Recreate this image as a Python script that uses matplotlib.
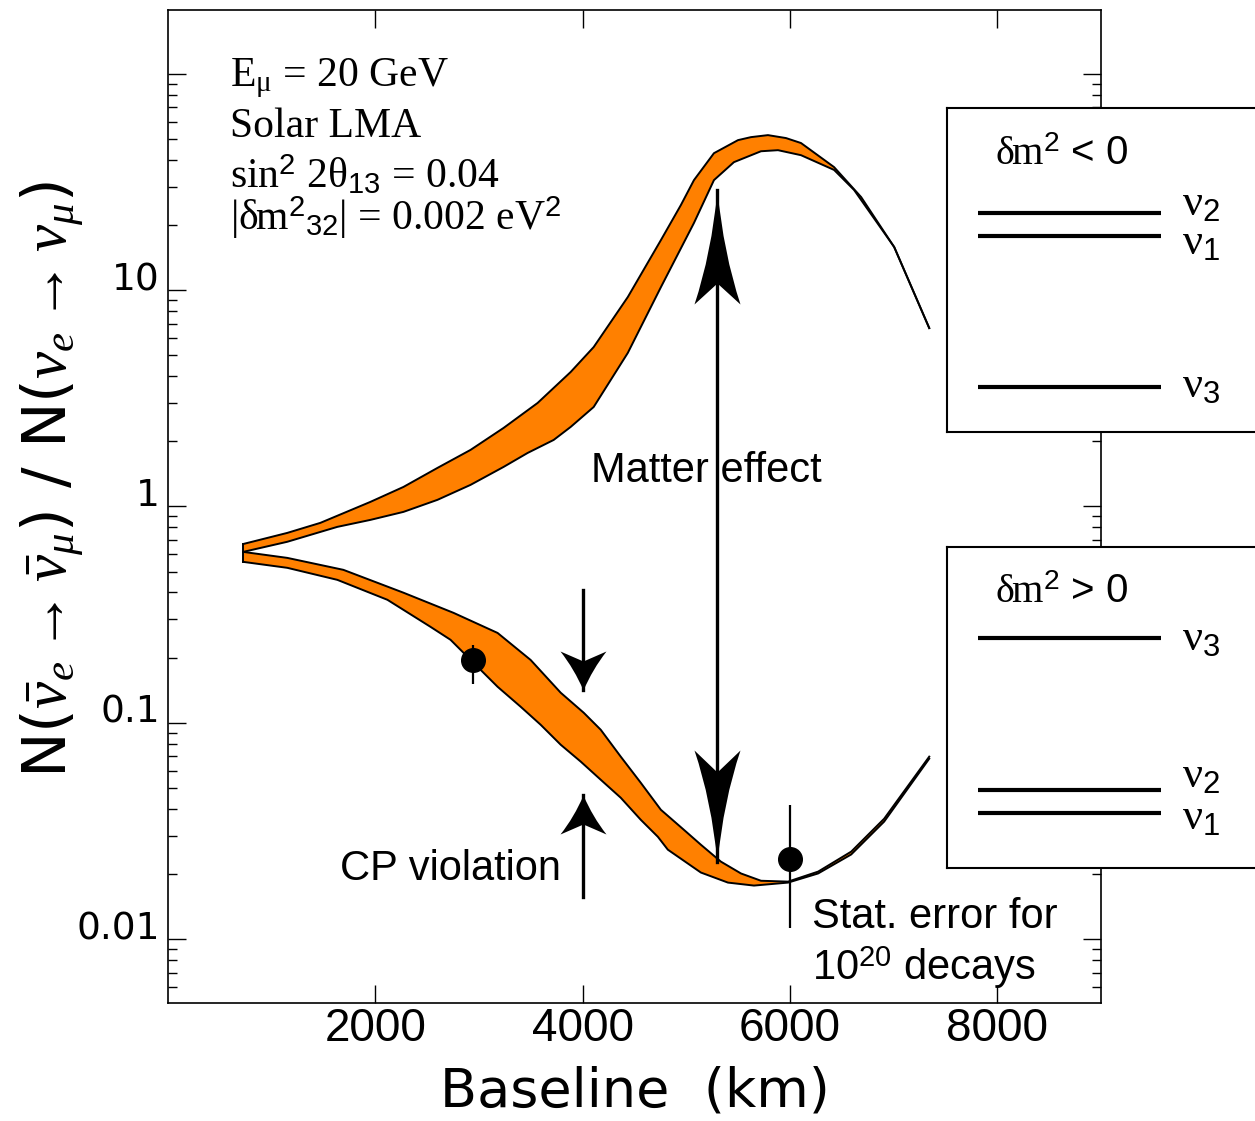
import numpy as np
import matplotlib
matplotlib.use('Agg')
import matplotlib.pyplot as plt
from matplotlib.path import Path
from matplotlib.ticker import FixedLocator, FixedFormatter, LogLocator, NullFormatter

plt.rcParams['mathtext.fontset'] = 'custom'
plt.rcParams['mathtext.rm'] = 'Liberation Serif'
plt.rcParams['mathtext.it'] = 'Liberation Serif:italic'
plt.rcParams['mathtext.bf'] = 'Liberation Serif:bold'
plt.rcParams['mathtext.sf'] = 'Liberation Sans'

# upper band (delta m^2 < 0)
up_hi_x = [725, 1150, 1469, 1952, 2271, 2599, 2918, 3237, 3565, 3884, 4106,
           4435, 4754, 4947, 5073, 5266, 5498, 5623, 5787, 5961, 6106, 6425, 6686, 7005, 7343]
up_hi_y = [0.67, 0.754, 0.839, 1.049, 1.23, 1.506, 1.824, 2.305, 3.006, 4.18, 5.45,
           9.28, 17.0, 24.7, 32.2, 42.9, 49.3, 50.9, 52.0, 50.4, 47.8, 37.0, 26.9, 15.8, 6.67]
up_lo_x = [725, 1150, 1633, 1952, 2271, 2599, 2918, 3237, 3469, 3720, 3884, 4106,
           4435, 4754, 5073, 5266, 5459, 5720, 5884, 6106, 6425, 6618, 7005, 7343]
up_lo_y = [0.616, 0.686, 0.804, 0.866, 0.943, 1.072, 1.257, 1.522, 1.766, 2.028, 2.329, 2.88,
           5.12, 10.3, 20.4, 32.2, 39.0, 43.8, 44.3, 42.0, 35.9, 29.0, 15.8, 6.67]

# lower band (delta m^2 > 0)
lo_hi_x = [725, 1150, 1691, 2271, 2754, 3179, 3498, 3788, 4010, 4174, 4367, 4560,
           4754, 4976, 5140, 5333, 5527, 5720, 5981, 6271, 6590, 6908, 7343]
lo_hi_y = [0.616, 0.578, 0.509, 0.399, 0.322, 0.260, 0.195, 0.1376, 0.1112, 0.0928, 0.0697, 0.0528,
           0.0396, 0.0320, 0.0273, 0.0228, 0.0201, 0.0186, 0.01843, 0.0205, 0.02536, 0.0360, 0.0697]
lo_lo_x = [725, 1150, 1633, 2116, 2531, 2725, 2947, 3179, 3401, 3594, 3788, 3981, 4174,
           4367, 4560, 4725, 4821, 5140, 5401, 5652, 5981, 6271, 6590, 6908, 7343]
lo_lo_y = [0.554, 0.520, 0.4575, 0.370, 0.2776, 0.2417, 0.1892, 0.1466, 0.1186, 0.0979, 0.0791, 0.0661, 0.0545,
           0.0450, 0.0356, 0.0297, 0.0259, 0.0203, 0.01824, 0.01767, 0.01824, 0.0201, 0.0246, 0.0349, 0.0682]

# statistical error points
pt_x = [2940, 6000]
pt_y = [0.1954, 0.02355]
pt_top = [0.229, 0.0418]
pt_bot = [0.1514, 0.0113]

# arrows (x, start, tip)
cp_x = 4000
cp_down = (0.411, 0.142)
cp_up = (0.0157, 0.0465)
me_x = 5300
me_tips = (29.0, 0.0228)

# level diagrams (fraction of box height)
inv_levels = [0.676, 0.605, 0.139]
norm_levels = [0.7165, 0.243, 0.171]

ORANGE = '#ff8000'

fig = plt.figure(figsize=(12.55, 11.21), dpi=100)
ax = fig.add_axes([0.1339, 0.1052, 0.7434, 0.8859])


def band(xh, yh, xl, yl):
    xs = np.concatenate([xh, xl[::-1]])
    ys = np.concatenate([yh, yl[::-1]])
    ax.fill(xs, ys, facecolor=ORANGE, edgecolor='none', zorder=2)
    ax.plot(xh, yh, color='k', lw=1.4, zorder=3)
    ax.plot(xl, yl, color='k', lw=1.4, zorder=3)


band(up_hi_x, up_hi_y, up_lo_x, up_lo_y)
band(lo_hi_x, lo_hi_y, lo_lo_x, lo_lo_y)
ax.plot([up_hi_x[0], lo_lo_x[0]], [up_hi_y[0], lo_lo_y[0]], color='k', lw=1.4, zorder=3)

err = [np.array(pt_y) - np.array(pt_bot), np.array(pt_top) - np.array(pt_y)]
ax.errorbar(pt_x, pt_y, yerr=err, fmt='o', ms=17, color='k', elinewidth=1.6,
            capsize=0, zorder=6)


def head_marker(L, W, N, c, up=True):
    s = 1 if up else -1
    v = [(0, 0), (c * W, -0.55 * L), (W / 2, -L), (0, -(L - N)),
         (-W / 2, -L), (-c * W, -0.55 * L), (0, 0), (0, 0)]
    codes = [Path.MOVETO, Path.CURVE3, Path.CURVE3, Path.LINETO,
             Path.LINETO, Path.CURVE3, Path.CURVE3, Path.CLOSEPOLY]
    return Path([(a, s * b) for a, b in v], codes), 2 * max(L, W / 2) * 0.72


def arrow_head(x, y, L, W, N, c, up):
    p, ms = head_marker(L, W, N, c, up)
    ax.plot([x], [y], marker=p, ms=ms, color='k', mew=0, ls='none', zorder=5)


ax.plot([cp_x, cp_x], cp_down, color='k', lw=2.4, zorder=4)
arrow_head(cp_x, cp_down[1], 39, 46, 10, 0.2, False)
ax.plot([cp_x, cp_x], cp_up, color='k', lw=2.4, zorder=4)
arrow_head(cp_x, cp_up[1], 39, 46, 10, 0.2, True)

ax.plot([me_x, me_x], me_tips, color='k', lw=2.4, zorder=4)
arrow_head(me_x, me_tips[0], 114, 46, 21, 0.13, True)
arrow_head(me_x, me_tips[1], 112, 46, 22, 0.13, False)

# annotations
sans = 'Liberation Sans'
ax.text(4077, 1.30, 'Matter effect', fontsize=30, family=sans, zorder=3)
ax.text(1662, 0.01883, 'CP violation', fontsize=30, family=sans)
ax.text(6213, 0.0113, 'Stat. error for', fontsize=30, family=sans)
ax.text(6213, 0.0065, r'10$^{\mathsf{20}}$ decays', fontsize=30, family=sans)

serif = 'Liberation Serif'
info = [(0.9235, r'E$_{\mathrm{μ}}$ = 20 GeV'),
        (0.8721, 'Solar LMA'),
        (0.8207, r'sin$^{\mathsf{2}}$ 2θ$_{\mathsf{13}}$ = 0.04'),
        (0.7784, r'|δm$^{\mathsf{2}}$$_{\mathsf{32}}$| = 0.002 eV$^{\mathsf{2}}$')]
for yy, s in info:
    ax.text(0.0665, yy, s, fontsize=30, family=serif, transform=ax.transAxes,
            va='baseline')

# axes
ax.set_yscale('log')
ax.set_xlim(0, 9000)
ax.set_ylim(0.00506, 197)
ax.xaxis.set_major_locator(FixedLocator([2000, 4000, 6000, 8000]))
ax.yaxis.set_major_locator(FixedLocator([0.01, 0.1, 1, 10, 100]))
ax.yaxis.set_major_formatter(FixedFormatter(['0.01', '0.1', '1', '10', '']))
ax.yaxis.set_minor_locator(LogLocator(base=10, subs=np.arange(2, 10), numticks=20))
ax.yaxis.set_minor_formatter(NullFormatter())
ax.tick_params(which='both', direction='in', top=True, right=True, width=1)
ax.tick_params(which='major', length=13)
ax.tick_params(which='minor', length=6.5)
ax.tick_params(axis='x', labelsize=33, pad=3)
ax.tick_params(axis='y', labelsize=27, pad=6)
for lab in ax.get_xticklabels():
    lab.set_family(sans)
for t in ax.yaxis.get_major_ticks():
    t.label1.set_va('baseline')
for sp in ax.spines.values():
    sp.set_linewidth(1.2)

ax.set_xlabel('Baseline  (km)', fontsize=39)
ax.xaxis.set_label_coords(0.5, -0.063)
ax.set_ylabel(r'N($\bar{\nu}_{e}\rightarrow\bar{\nu}_{\mu}$) / N($\nu_{e}\rightarrow\nu_{\mu}$)',
              fontsize=44, va='center')
ax.yaxis.set_label_coords(-0.124, 0.527)

# level scheme boxes
boxes = [([0.7546, 0.6146, 0.2454, 0.2890], r'$\mathrm{δm}^{\mathsf{2}}$ < 0', inv_levels,
          ['2', '1', '3'], [0.670, 0.55, 0.108]),
         ([0.7546, 0.2257, 0.2454, 0.2864], r'$\mathrm{δm}^{\mathsf{2}}$ > 0', norm_levels,
          ['3', '2', '1'], [0.679, 0.252, 0.12])]
for rect, title, levels, names, label_y in boxes:
    bx = fig.add_axes(rect)
    bx.set_xlim(0, 1)
    bx.set_ylim(0, 1)
    bx.set_xticks([])
    bx.set_yticks([])
    for sp in bx.spines.values():
        sp.set_linewidth(1.5)
    bx.spines['right'].set_visible(False)
    bx.text(0.156, 0.824, title, fontsize=29, family=sans, va='baseline')
    bx.hlines(levels, 0.1006, 0.695, color='k', lw=3)
    for n, ly in zip(names, label_y):
        bx.text(0.763, ly, r'$\mathrm{ν}_{\mathsf{%s}}$' % n, fontsize=32, va='baseline')

fig.savefig('out.png', dpi=100)
